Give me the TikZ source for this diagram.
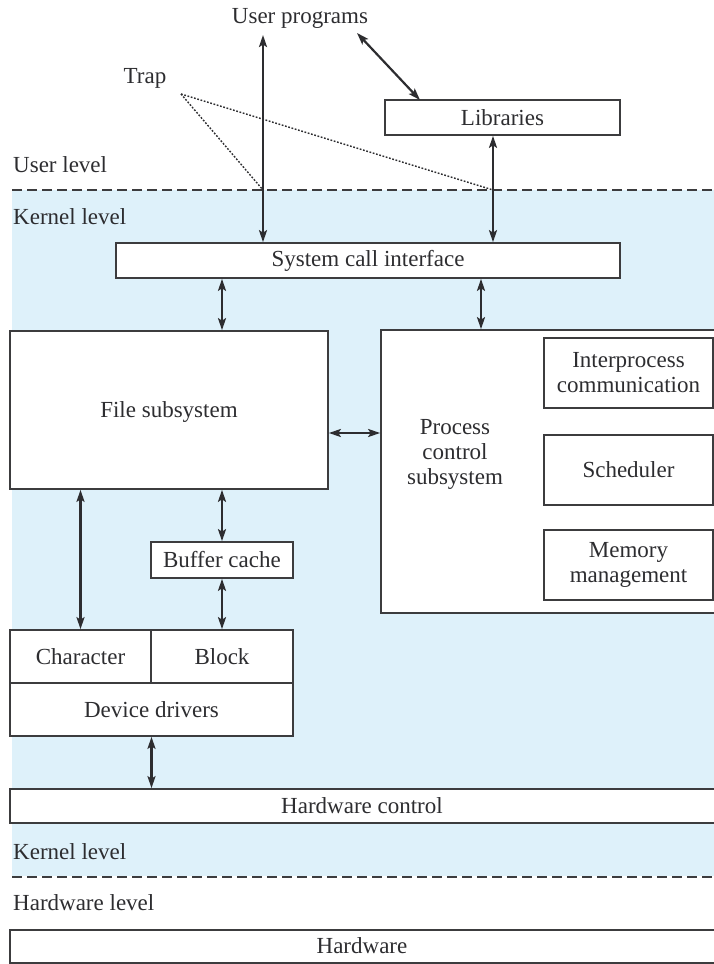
\documentclass[tikz,border=0pt]{standalone}
\usepackage{fontspec}
\setmainfont{Liberation Serif}
\usetikzlibrary{arrows.meta}
\definecolor{kernelblue}{RGB}{222,241,250}
\definecolor{ink}{RGB}{45,45,48}
\definecolor{frame}{RGB}{60,60,62}
\tikzset{
  box/.style={draw=frame, line width=1.7pt, fill=white, inner sep=0pt,
              align=center, text=ink},
  lbl/.style={inner sep=0pt, text=ink, align=center},
  dbl/.style={draw=ink, line width=2.2pt,
              {Stealth[length=12pt,width=8pt,inset=2.5pt]}-{Stealth[length=12pt,width=8pt,inset=2.5pt]}},
  levelline/.style={draw=frame, line width=1.6pt, dash pattern=on 10pt off 5pt},
  trapline/.style={draw=ink, line width=1.4pt, dash pattern=on 1.8pt off 1.6pt}
}
\begin{document}
\begin{tikzpicture}[x=1pt, y=-1pt, font=\fontsize{23}{25}\selectfont]
\useasboundingbox (0,0) rectangle (714,964);

% kernel band
\fill[kernelblue] (12,190) rectangle (714,876);
\draw[levelline] (12,190) -- (714,190);
\draw[levelline] (12,877) -- (714,877);

% level labels
\node[lbl, anchor=west] (ulev) at (13,165) {User level};
\node[lbl, anchor=west] (klev1) at (13,217) {Kernel level};
\node[lbl, anchor=west] (klev2) at (13,852) {Kernel level};
\node[lbl, anchor=west] (hlev) at (13,903) {Hardware level};

% user side
\node[lbl] (up) at (300,18) {User programs};
\node[lbl] (trap) at (145,78) {Trap};
\node[box, minimum width=235pt, minimum height=35pt] (lib) at (502.5,117.5) {Libraries};

% kernel blocks
\node[box, minimum width=504pt, minimum height=35pt] (sci) at (368,260.5) {System call interface};
\node[box, minimum width=318pt, minimum height=158pt] (fs) at (169,410) {};
\node[lbl] (fstext) at (169,412) {File subsystem};
\node[box, minimum width=339pt, minimum height=283pt] (pcs) at (550.5,471.5) {};
\node[lbl] (pcstext) at (455,454) {Process\\control\\subsystem};
\node[box, minimum width=169pt, minimum height=70pt] (ipc) at (628.5,373) {Interprocess\\communication};
\node[box, minimum width=169pt, minimum height=70pt] (sched) at (628.5,470) {Scheduler};
\node[box, minimum width=169pt, minimum height=70pt] (mem) at (628.5,565) {Memory\\management};
\node[box, minimum width=142pt, minimum height=36pt] (bc) at (222,560) {Buffer cache};
\node[box, minimum width=141pt, minimum height=53pt] (chr) at (80.5,656.5) {Character};
\node[box, minimum width=142pt, minimum height=53pt] (blk) at (222,656.5) {Block};
\node[box, minimum width=283pt, minimum height=53pt] (dd) at (151.5,709.5) {Device drivers};
\node[box, minimum width=710pt, minimum height=34pt] (hwc) at (365,806) {};
\node[lbl] (hwctext) at (362,806) {Hardware control};
\node[box, minimum width=710pt, minimum height=33pt] (hw) at (365,946.5) {};
\node[lbl] (hwtext) at (362,946) {Hardware};

% connector anchors
\coordinate (sysx) at (263,35);
\coordinate (libx) at (493,0);
\coordinate (diagA) at (357,33);
\coordinate (diagB) at (420,100);
\coordinate (fsx) at (222,0);
\coordinate (pcx) at (481,0);
\coordinate (trapfoot) at (181,94);

% trap pointers
\draw[trapline] (trapfoot) -- (sysx |- 0,190);
\draw[trapline] (trapfoot) -- (libx |- 0,190);

% connectors
\draw[dbl] (sysx) -- (sysx |- sci.north);
\draw[dbl] (diagA) -- (diagB);
\draw[dbl] (libx |- lib.south) -- (libx |- sci.north);
\draw[dbl] (fsx |- sci.south) -- (fsx |- fs.north);
\draw[dbl] (pcx |- sci.south) -- (pcx |- pcs.north);
\draw[dbl] (fs.east |- 0,433) -- (pcs.west |- 0,433);
\draw[dbl] (chr.north |- fs.south) -- (chr.north);
\draw[dbl] (bc.north |- fs.south) -- (bc.north);
\draw[dbl] (bc.south) -- (blk.north);
\draw[dbl] (dd.south) -- (dd.south |- hwc.north);
\end{tikzpicture}
\end{document}
